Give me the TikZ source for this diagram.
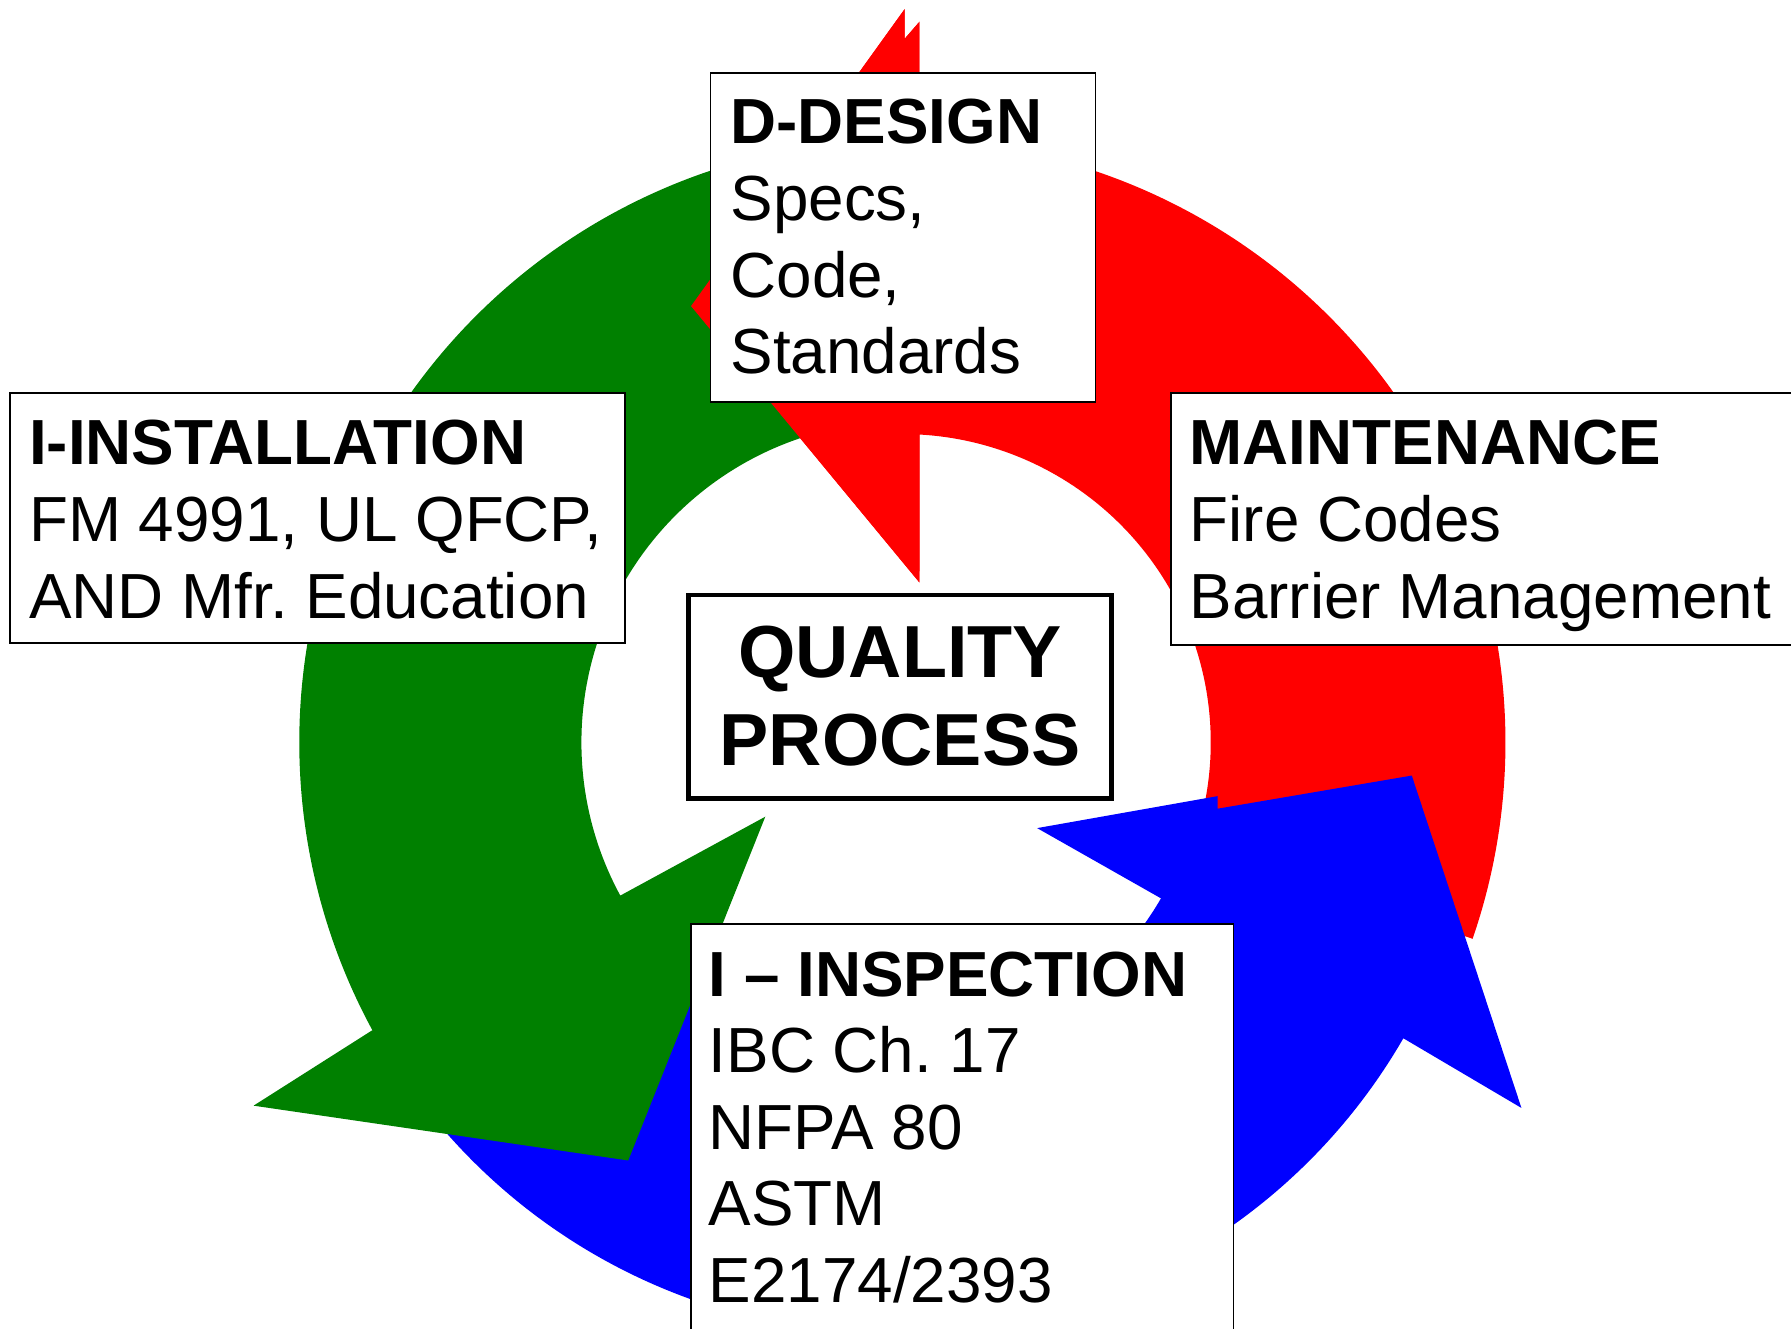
\documentclass[tikz,border=0pt]{standalone}
\usepackage{fontspec}
\setmainfont{Liberation Sans}
\usetikzlibrary{calc}
\definecolor{arrowred}{RGB}{255,0,0}
\definecolor{arrowgreen}{RGB}{0,128,0}
\definecolor{arrowblue}{RGB}{0,0,255}
\frenchspacing
\begin{document}
\begin{tikzpicture}[x=0.011422cm,y=-0.011422cm,
    redarrow/.style={fill=arrowred},
    greenarrow/.style={fill=arrowgreen},
    bluearrow/.style={fill=arrowblue},
    infobox/.style={draw=black, line width=0.5pt, fill=white},
    qualitybox/.style={draw=black, line width=1.3pt, fill=white},
    boxtext/.style={anchor=base west, inner sep=0pt, font=\fontsize{18.15}{21.8}\selectfont},
    qualitytext/.style={anchor=base, inner sep=0pt, font=\fontsize{21}{25}\selectfont\bfseries}]

    \useasboundingbox (0,0) rectangle (1568,1163);
    % centres of the ring
    \coordinate (ringc) at (790,650);
    \coordinate (bluec) at (780,650);

    % Red arrow, maintenance up to design
    \fill[redarrow] ($(ringc)+(19:528)$) arc[start angle=19, end angle=-88.4, radius=528]
      -- (805,19) -- (792,34) -- (792,8) -- (605,268) -- (805,510)
      -- ($(ringc)+(-86.8:270)$) arc[start angle=-86.8, end angle=19, radius=270] -- cycle;
    % Blue arrow, inspection round to maintenance
    \fill[bluearrow] ($(bluec)+(145:518)$) arc[start angle=145, end angle=30, radius=518]
      -- (1332,970) -- (1236,679) -- (1066,708) -- (1066,697) -- (908,725)
      -- ($(bluec)+(30:273)$) arc[start angle=30, end angle=145, radius=273] -- cycle;
    % Green arrow, design down to installation
    \fill[greenarrow] ($(ringc)+(-100:528)$) arc[start angle=-100, end angle=-208.5, radius=528]
      -- (222,968) -- (550,1016) -- (670,715)
      -- ($(ringc)+(-208.5:281)$) arc[start angle=-208.5, end angle=-100, radius=281] -- cycle;
    % Red head again, it lies over the green
    \fill[redarrow] (805,19) -- (792,34) -- (792,8) -- (605,268) -- (805,510) -- cycle;

    % Boxes
    \draw[infobox] (622,64) rectangle (959,352);
    \draw[infobox] (9,344) rectangle (547,563);
    \draw[infobox] (1025,344) rectangle (1580,565);
    \draw[infobox] (605,809) rectangle (1080,1180);
    \draw[qualitybox] (603,521) rectangle (973,699);

    % Texts
    \node[boxtext] (design) at (639,126)
      {\begin{tabular}[t]{@{}l@{}}\textbf{D-DESIGN}\\Specs,\\Code,\\Standards\end{tabular}};
    \node[boxtext] (installation) at (25,407)
      {\begin{tabular}[t]{@{}l@{}}\textbf{I-INSTALLATION}\\FM 4991, UL QFCP,\\AND Mfr. Education\end{tabular}};
    \node[boxtext] (maintenance) at (1041,407)
      {\begin{tabular}[t]{@{}l@{}}\textbf{MAINTENANCE}\\Fire Codes\\Barrier Management\end{tabular}};
    \node[boxtext] (inspection) at (620,872)
      {\begin{tabular}[t]{@{}l@{}}\textbf{I – INSPECTION}\\IBC Ch. 17\\NFPA 80\\ASTM\\E2174/2393\end{tabular}};
    \node[qualitytext] (quality) at (788,593)
      {\begin{tabular}[t]{@{}c@{}}QUALITY\\PROCESS\end{tabular}};
\end{tikzpicture}
\end{document}
